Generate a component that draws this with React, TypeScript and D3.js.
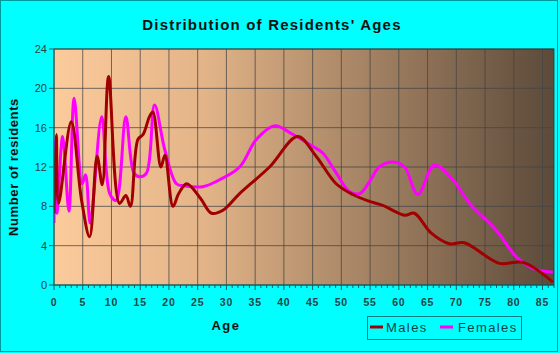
import React from "react";
import * as d3 from "d3";

const maleAges = [0, 0.4, 0.8, 3.0, 4.8, 6.2, 7.5, 8.4, 9.5, 11.4, 12.5, 13.3, 14.6, 15.5, 16.6, 17.2, 18.6, 19.3, 20.7, 21.7, 23.1, 25.5, 27.4, 29.4, 32.3, 37.5, 42.4, 45.6, 49.1, 52.0, 54.9, 57.2, 61.0, 62.7, 65.6, 68.8, 71.4, 77.5, 81.6, 86.8];
const maleValues = [7.3, 15.3, 8.3, 16.6, 8.6, 4.9, 13.1, 10.2, 21.2, 8.3, 9.1, 8.0, 14.8, 15.3, 17.1, 17.6, 12.0, 13.2, 8.0, 9.3, 10.3, 8.8, 7.3, 7.6, 9.3, 12.0, 15.1, 13.1, 10.3, 9.2, 8.5, 8.1, 7.1, 7.3, 5.3, 4.2, 4.3, 2.2, 2.3, 0.3];

const femaleAges = [0, 0.15, 0.5, 1.5, 2.6, 3.5, 4.9, 5.5, 6.3, 8.3, 9.7, 10.8, 12.5, 13.9, 14.9, 16.1, 17.5, 19.3, 21.3, 22.5, 25.9, 28.8, 32.3, 35.2, 38.4, 41.6, 45.0, 46.8, 49.1, 51.4, 53.2, 54.9, 56.6, 59.0, 61.0, 63.3, 66.2, 69.4, 72.3, 76.9, 80.4, 83.3, 86.8];
const femaleValues = [6.3, 14.8, 7.3, 15.1, 7.5, 19.0, 10.3, 11.2, 6.3, 17.1, 9.3, 8.6, 17.1, 11.4, 11.0, 11.4, 18.3, 13.7, 10.3, 10.1, 10.0, 10.7, 12.0, 14.8, 16.2, 15.3, 14.1, 13.4, 11.4, 9.5, 9.3, 10.5, 12.0, 12.5, 12.0, 9.2, 12.2, 10.7, 8.3, 5.6, 2.9, 1.7, 1.3];

const xTicks = [0, 5, 10, 15, 20, 25, 30, 35, 40, 45, 50, 55, 60, 65, 70, 75, 80, 85];
const yTicks = [0, 4, 8, 12, 16, 20, 24];

const W = 560, H = 353;
const L = 54, R = 554, T = 49, B = 285;

export default function App() {
  const x = d3.scaleLinear().domain([0, 87]).range([L, R]);
  const y = d3.scaleLinear().domain([0, 24]).range([B, T]);
  const line = d3
    .line<[number, number]>()
    .x((d) => x(d[0]))
    .y((d) => y(d[1]))
    .curve(d3.curveCatmullRom.alpha(0.5));
  const males = maleAges.map((a, i) => [a, maleValues[i]] as [number, number]);
  const females = femaleAges.map((a, i) => [a, femaleValues[i]] as [number, number]);
  const minor = d3.range(0, 88, 1);
  const font = "'Liberation Sans', Arial, sans-serif";
  return (
    <svg width={W} height={H} style={{ position: "absolute", left: 0, top: 0 }} fontFamily={font}>
      <defs>
        <linearGradient id="bg" x1="0" x2="1" y1="0" y2="0">
          <stop offset="0" stopColor="#fccb9c" />
          <stop offset="0.3" stopColor="#e3b488" />
          <stop offset="1" stopColor="#5c4a3a" />
        </linearGradient>
        <clipPath id="clip">
          <rect x={L} y={T} width={R - L} height={B - T} />
        </clipPath>
      </defs>
      <rect x={0} y={0} width={W} height={H} fill="#00ffff" />
      <rect x={0.5} y={0.5} width={557} height={351} fill="none" stroke="#009999" />
      <text x={272} y={30} textAnchor="middle" fontSize={15} fontWeight="bold" letterSpacing={1.2} fill="#111">
        Distribution of Residents' Ages
      </text>
      <rect x={L} y={T} width={R - L} height={B - T} fill="url(#bg)" />
      {yTicks.slice(1).map((t) => (
        <line key={"gy" + t} x1={L} x2={R} y1={y(t)} y2={y(t)} stroke="#444" strokeOpacity={0.75} />
      ))}
      {xTicks.slice(1).map((t) => (
        <line key={"gx" + t} x1={x(t)} x2={x(t)} y1={T} y2={B} stroke="#444" strokeOpacity={0.75} />
      ))}
      <rect x={L} y={T} width={R - L} height={B - T} fill="none" stroke="#333" strokeOpacity={0.8} />
      <g clipPath="url(#clip)">
        <path d={line(females) || ""} fill="none" stroke="#ff00ff" strokeWidth={3} strokeLinejoin="round" />
        <path d={line(males) || ""} fill="none" stroke="#a00000" strokeWidth={3} strokeLinejoin="round" />
      </g>
      <line x1={L} x2={L} y1={T} y2={B} stroke="#006666" />
      <line x1={L} x2={R} y1={B} y2={B} stroke="#006666" />
      {minor.map((t) => (
        <line key={"mt" + t} x1={x(t)} x2={x(t)} y1={B} y2={B + (t % 5 === 0 ? 5 : 3)} stroke="#006666" />
      ))}
      {yTicks.map((t) => (
        <g key={"yt" + t}>
          <line x1={L - 5} x2={L} y1={y(t)} y2={y(t)} stroke="#006666" />
          <text x={L - 7} y={y(t) + 4} textAnchor="end" fontSize={11} fill="#224444">
            {t}
          </text>
        </g>
      ))}
      {xTicks.map((t) => (
        <text key={"xt" + t} x={x(t)} y={306} textAnchor="middle" fontSize={10.5} fontWeight="bold" letterSpacing={0.8} fill="#224444">
          {t}
        </text>
      ))}
      <text x={226} y={330} textAnchor="middle" fontSize={13} fontWeight="bold" letterSpacing={1.5} fill="#111">
        Age
      </text>
      <text
        transform={`translate(18,167) rotate(-90)`}
        textAnchor="middle"
        fontSize={13}
        fontWeight="bold"
        letterSpacing={0.6}
        fill="#111"
      >
        Number of residents
      </text>
      <rect x={367.5} y={316.5} width={154} height={23} fill="none" stroke="#008080" />
      <line x1={370} x2={383} y1={327} y2={327} stroke="#a00000" strokeWidth={3} />
      <text x={386} y={332} fontSize={13} letterSpacing={1.4} fill="#114444">
        Males
      </text>
      <line x1={440} x2={453} y1={327} y2={327} stroke="#ff00ff" strokeWidth={3} />
      <text x={458} y={332} fontSize={13} letterSpacing={1.4} fill="#114444">
        Females
      </text>
    </svg>
  );
}
